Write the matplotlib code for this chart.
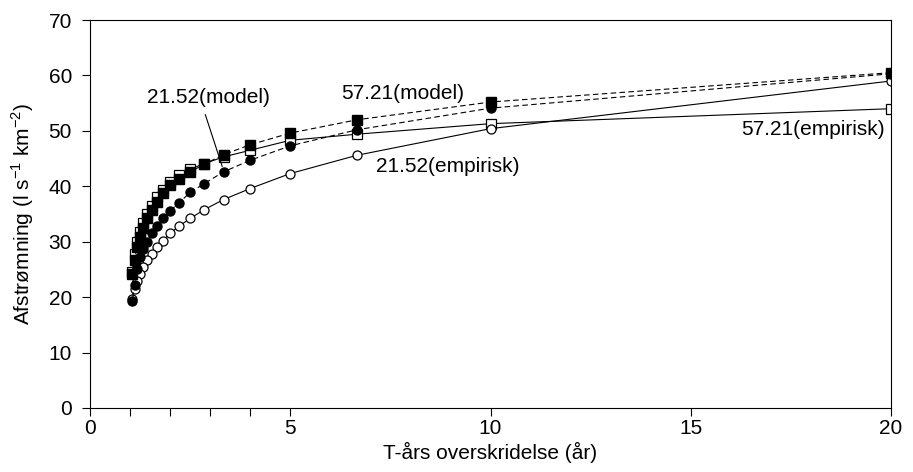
import matplotlib
matplotlib.use("Agg")
import matplotlib.pyplot as plt
from matplotlib.ticker import FixedLocator

plt.rcParams['font.family'] = ['Liberation Sans', 'DejaVu Sans']

# return periods T = 20/m (plotting positions)
T = [20, 10, 6.667, 5, 4, 3.333, 2.857, 2.5, 2.222, 2.0,
     1.818, 1.667, 1.538, 1.429, 1.333, 1.25, 1.176, 1.111, 1.053]

emp_2152 = [59.0, 50.4, 45.6, 42.3, 39.6, 37.6, 35.8, 34.2, 32.8, 31.5,
            30.2, 29.0, 27.8, 26.7, 25.5, 24.2, 23.0, 21.5, 19.7]
mod_2152 = [60.3, 54.1, 50.2, 47.3, 44.7, 42.6, 40.5, 38.9, 37.0, 35.6,
            34.2, 32.8, 31.5, 30.0, 28.6, 27.2, 25.0, 22.2, 19.3]
emp_5721 = [54.0, 51.3, 49.4, 48.3, 46.5, 45.3, 44.1, 43.1, 42.0, 40.8,
            39.4, 38.0, 36.5, 35.0, 33.3, 31.8, 30.0, 27.7, 24.6]
mod_5721 = [60.5, 55.2, 52.0, 49.6, 47.5, 45.7, 44.0, 42.6, 41.4, 40.2,
            38.7, 37.2, 35.7, 34.2, 32.4, 30.9, 29.1, 26.7, 24.2]

fig = plt.figure(figsize=(9.13, 4.72), dpi=100)
ax = fig.add_axes([0.0986, 0.1356, 0.8773, 0.822])

ms = 6.5
lw = 0.8
fs = 15
ax.plot(T, emp_5721, '-', color='black', lw=lw, marker='s', ms=ms,
        mfc='white', mec='black', mew=0.9)
ax.plot(T, emp_2152, '-', color='black', lw=lw, marker='o', ms=ms,
        mfc='white', mec='black', mew=0.9)
ax.plot(T, mod_2152, '--', color='black', lw=lw, marker='o', ms=ms,
        mfc='black', mec='black', dashes=(5, 3))
ax.plot(T, mod_5721, '--', color='black', lw=lw, marker='s', ms=ms,
        mfc='black', mec='black', dashes=(5, 3))

ax.set_xlim(0, 20)
ax.set_ylim(0, 70)
ax.set_xticks([0, 5, 10, 15, 20])
ax.xaxis.set_minor_locator(FixedLocator([1, 2, 3, 4]))
ax.set_yticks(range(0, 71, 10))
ax.tick_params(axis='both', which='both', direction='out', labelsize=fs,
               width=0.8, top=False, right=False, length=6)
ax.tick_params(axis='x', which='both', pad=2)
ax.tick_params(axis='y', which='major', pad=7)
for s in ax.spines.values():
    s.set_linewidth(0.8)

ax.set_xlabel('T-års overskridelse (år)', fontsize=fs, labelpad=3)
ax.set_ylabel('Afstrømning (l s$^{\\mathregular{-1}}$ km$^{\\mathregular{-2}}$)',
              fontsize=fs, labelpad=9)

ax.text(2.95, 56.0, '21.52(model)', fontsize=fs, ha='center', va='center')
ax.plot([2.88, 3.30], [52.9, 43.6], color='black', lw=0.8)
ax.text(7.8, 56.7, '57.21(model)', fontsize=fs, ha='center', va='center')
ax.text(8.92, 43.5, '21.52(empirisk)', fontsize=fs, ha='center', va='center')
ax.text(19.85, 50.3, '57.21(empirisk)', fontsize=fs, ha='right', va='center')

fig.savefig('out.png', dpi=100)
